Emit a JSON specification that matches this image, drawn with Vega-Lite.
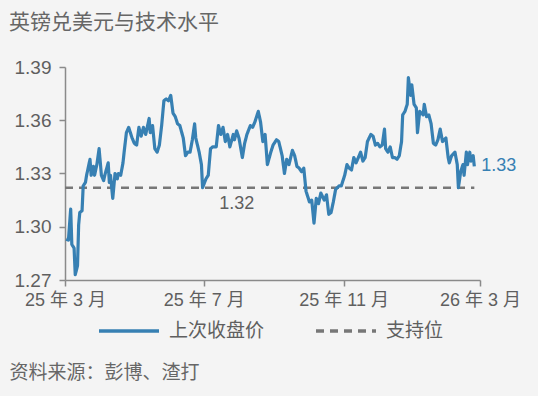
{
  "$schema": "https://vega.github.io/schema/vega-lite/v6.json",
  "width": 415,
  "height": 213,
  "autosize": {"type": "none"},
  "padding": {"left": 65, "top": 67, "right": 58, "bottom": 116},
  "background": "#f4f4f4",
  "config": {
    "view": {"stroke": null},
    "font": "Liberation Sans, Noto Sans CJK SC",
    "axis": {"grid": false, "domainColor": "#8a8a8a", "tickColor": "#8a8a8a", "domainWidth": 1.5, "tickWidth": 1.5, "labelColor": "#5f5f5f", "labelFont": "Liberation Sans, Noto Sans CJK SC"}
  },
  "title": {
    "text": "英镑兑美元与技术水平",
    "anchor": "start",
    "frame": "group",
    "dx": -56,
    "offset": 8,
    "baseline": "alphabetic",
    "font": "Noto Sans CJK SC",
    "fontSize": 21,
    "fontWeight": "normal",
    "color": "#666666"
  },
  "datasets": {
    "price": [
      {"d": "2025-03-02", "v": 1.293}, {"d": "2025-03-04", "v": 1.2925}, {"d": "2025-03-06", "v": 1.310}, {"d": "2025-03-07", "v": 1.290},
      {"d": "2025-03-09", "v": 1.288}, {"d": "2025-03-10", "v": 1.273}, {"d": "2025-03-12", "v": 1.278}, {"d": "2025-03-13", "v": 1.301},
      {"d": "2025-03-14", "v": 1.308}, {"d": "2025-03-16", "v": 1.309}, {"d": "2025-03-17", "v": 1.323}, {"d": "2025-03-19", "v": 1.325},
      {"d": "2025-03-20", "v": 1.329}, {"d": "2025-03-23", "v": 1.338}, {"d": "2025-03-24", "v": 1.329}, {"d": "2025-03-26", "v": 1.334},
      {"d": "2025-03-27", "v": 1.329}, {"d": "2025-03-29", "v": 1.335}, {"d": "2025-03-31", "v": 1.344}, {"d": "2025-04-02", "v": 1.329},
      {"d": "2025-04-04", "v": 1.326}, {"d": "2025-04-05", "v": 1.329}, {"d": "2025-04-08", "v": 1.336}, {"d": "2025-04-09", "v": 1.325},
      {"d": "2025-04-10", "v": 1.329}, {"d": "2025-04-12", "v": 1.316}, {"d": "2025-04-14", "v": 1.330}, {"d": "2025-04-16", "v": 1.327},
      {"d": "2025-04-17", "v": 1.330}, {"d": "2025-04-19", "v": 1.329}, {"d": "2025-04-21", "v": 1.336}, {"d": "2025-04-22", "v": 1.342},
      {"d": "2025-04-24", "v": 1.353}, {"d": "2025-04-26", "v": 1.356}, {"d": "2025-04-29", "v": 1.350}, {"d": "2025-05-01", "v": 1.347},
      {"d": "2025-05-03", "v": 1.346}, {"d": "2025-05-05", "v": 1.356}, {"d": "2025-05-07", "v": 1.351}, {"d": "2025-05-09", "v": 1.356},
      {"d": "2025-05-11", "v": 1.352}, {"d": "2025-05-14", "v": 1.361}, {"d": "2025-05-15", "v": 1.353}, {"d": "2025-05-17", "v": 1.357},
      {"d": "2025-05-19", "v": 1.344}, {"d": "2025-05-21", "v": 1.342}, {"d": "2025-05-23", "v": 1.346}, {"d": "2025-05-25", "v": 1.357},
      {"d": "2025-05-27", "v": 1.371}, {"d": "2025-05-29", "v": 1.372}, {"d": "2025-05-31", "v": 1.371}, {"d": "2025-06-02", "v": 1.374},
      {"d": "2025-06-04", "v": 1.364}, {"d": "2025-06-06", "v": 1.362}, {"d": "2025-06-08", "v": 1.358}, {"d": "2025-06-10", "v": 1.357},
      {"d": "2025-06-13", "v": 1.350}, {"d": "2025-06-15", "v": 1.340}, {"d": "2025-06-17", "v": 1.342}, {"d": "2025-06-19", "v": 1.342},
      {"d": "2025-06-21", "v": 1.349}, {"d": "2025-06-23", "v": 1.358}, {"d": "2025-06-24", "v": 1.350}, {"d": "2025-06-27", "v": 1.342},
      {"d": "2025-06-29", "v": 1.335}, {"d": "2025-06-30", "v": 1.322}, {"d": "2025-07-03", "v": 1.327}, {"d": "2025-07-05", "v": 1.329},
      {"d": "2025-07-07", "v": 1.344}, {"d": "2025-07-09", "v": 1.345}, {"d": "2025-07-12", "v": 1.345}, {"d": "2025-07-14", "v": 1.357},
      {"d": "2025-07-16", "v": 1.352}, {"d": "2025-07-18", "v": 1.356}, {"d": "2025-07-20", "v": 1.348}, {"d": "2025-07-22", "v": 1.352},
      {"d": "2025-07-24", "v": 1.345}, {"d": "2025-07-27", "v": 1.352}, {"d": "2025-07-28", "v": 1.349}, {"d": "2025-07-30", "v": 1.354},
      {"d": "2025-08-01", "v": 1.350}, {"d": "2025-08-04", "v": 1.339}, {"d": "2025-08-06", "v": 1.347}, {"d": "2025-08-08", "v": 1.352},
      {"d": "2025-08-11", "v": 1.357}, {"d": "2025-08-13", "v": 1.356}, {"d": "2025-08-15", "v": 1.359}, {"d": "2025-08-18", "v": 1.365},
      {"d": "2025-08-20", "v": 1.359}, {"d": "2025-08-22", "v": 1.348}, {"d": "2025-08-24", "v": 1.352}, {"d": "2025-08-26", "v": 1.335},
      {"d": "2025-08-29", "v": 1.342}, {"d": "2025-08-31", "v": 1.346}, {"d": "2025-09-01", "v": 1.347}, {"d": "2025-09-03", "v": 1.349},
      {"d": "2025-09-05", "v": 1.348}, {"d": "2025-09-08", "v": 1.340}, {"d": "2025-09-10", "v": 1.330}, {"d": "2025-09-12", "v": 1.338},
      {"d": "2025-09-14", "v": 1.335}, {"d": "2025-09-17", "v": 1.343}, {"d": "2025-09-19", "v": 1.340}, {"d": "2025-09-21", "v": 1.334},
      {"d": "2025-09-23", "v": 1.333}, {"d": "2025-09-25", "v": 1.331}, {"d": "2025-09-27", "v": 1.333}, {"d": "2025-09-29", "v": 1.320},
      {"d": "2025-10-02", "v": 1.314}, {"d": "2025-10-04", "v": 1.315}, {"d": "2025-10-06", "v": 1.302}, {"d": "2025-10-08", "v": 1.316},
      {"d": "2025-10-10", "v": 1.313}, {"d": "2025-10-12", "v": 1.319}, {"d": "2025-10-15", "v": 1.315}, {"d": "2025-10-17", "v": 1.318},
      {"d": "2025-10-19", "v": 1.307}, {"d": "2025-10-21", "v": 1.308}, {"d": "2025-10-23", "v": 1.314}, {"d": "2025-10-25", "v": 1.321},
      {"d": "2025-10-28", "v": 1.323}, {"d": "2025-10-30", "v": 1.323}, {"d": "2025-11-01", "v": 1.327}, {"d": "2025-11-02", "v": 1.329},
      {"d": "2025-11-04", "v": 1.335}, {"d": "2025-11-06", "v": 1.333}, {"d": "2025-11-08", "v": 1.332}, {"d": "2025-11-10", "v": 1.339},
      {"d": "2025-11-12", "v": 1.336}, {"d": "2025-11-14", "v": 1.339}, {"d": "2025-11-16", "v": 1.342}, {"d": "2025-11-18", "v": 1.337},
      {"d": "2025-11-20", "v": 1.339}, {"d": "2025-11-22", "v": 1.348}, {"d": "2025-11-25", "v": 1.352}, {"d": "2025-11-27", "v": 1.351},
      {"d": "2025-11-29", "v": 1.346}, {"d": "2025-12-01", "v": 1.347}, {"d": "2025-12-03", "v": 1.345}, {"d": "2025-12-05", "v": 1.346},
      {"d": "2025-12-07", "v": 1.355}, {"d": "2025-12-08", "v": 1.344}, {"d": "2025-12-10", "v": 1.342}, {"d": "2025-12-12", "v": 1.345},
      {"d": "2025-12-14", "v": 1.339}, {"d": "2025-12-16", "v": 1.339}, {"d": "2025-12-18", "v": 1.338}, {"d": "2025-12-20", "v": 1.340},
      {"d": "2025-12-22", "v": 1.348}, {"d": "2025-12-23", "v": 1.363}, {"d": "2025-12-25", "v": 1.365}, {"d": "2025-12-27", "v": 1.369},
      {"d": "2025-12-28", "v": 1.384}, {"d": "2025-12-30", "v": 1.374}, {"d": "2025-12-31", "v": 1.380}, {"d": "2026-01-02", "v": 1.369},
      {"d": "2026-01-04", "v": 1.367}, {"d": "2026-01-05", "v": 1.353}, {"d": "2026-01-07", "v": 1.365}, {"d": "2026-01-10", "v": 1.363},
      {"d": "2026-01-11", "v": 1.369}, {"d": "2026-01-13", "v": 1.362}, {"d": "2026-01-15", "v": 1.363}, {"d": "2026-01-17", "v": 1.358},
      {"d": "2026-01-19", "v": 1.347}, {"d": "2026-01-21", "v": 1.346}, {"d": "2026-01-23", "v": 1.349}, {"d": "2026-01-25", "v": 1.355},
      {"d": "2026-01-27", "v": 1.348}, {"d": "2026-01-30", "v": 1.350}, {"d": "2026-02-01", "v": 1.339}, {"d": "2026-02-02", "v": 1.336},
      {"d": "2026-02-04", "v": 1.340}, {"d": "2026-02-07", "v": 1.342}, {"d": "2026-02-09", "v": 1.335}, {"d": "2026-02-10", "v": 1.322},
      {"d": "2026-02-12", "v": 1.331}, {"d": "2026-02-14", "v": 1.335}, {"d": "2026-02-15", "v": 1.329}, {"d": "2026-02-17", "v": 1.342},
      {"d": "2026-02-18", "v": 1.335}, {"d": "2026-02-20", "v": 1.342}, {"d": "2026-02-21", "v": 1.337}, {"d": "2026-02-23", "v": 1.340},
      {"d": "2026-02-24", "v": 1.334}
    ],
    "support": [
      {"d": "2025-03-01", "v": 1.322},
      {"d": "2026-02-24", "v": 1.322}
    ],
    "notes": [
      {"d": "2025-07-30", "v": 1.322, "t": "1.32", "k": "support"},
      {"d": "2026-02-24", "v": 1.334, "t": "1.33", "k": "last"}
    ]
  },
  "encoding": {
    "x": {
      "field": "d", "type": "temporal",
      "scale": {"type": "utc", "domain": [{"year": 2025, "month": 3, "date": 1, "utc": true}, {"year": 2026, "month": 3, "date": 1, "utc": true}]},
      "axis": {
        "values": [{"year": 2025, "month": 3, "date": 1, "utc": true}, {"year": 2025, "month": 7, "date": 1, "utc": true}, {"year": 2025, "month": 11, "date": 1, "utc": true}, {"year": 2026, "month": 3, "date": 1, "utc": true}],
        "labelExpr": "utcFormat(datum.value, '%y') + ' 年 ' + (utcmonth(datum.value) + 1) + ' 月'",
        "labelFontSize": 18,
        "labelPadding": 5,
        "tickSize": 6,
        "labelFlush": false,
        "labelOverlap": false,
        "title": "资料来源：彭博、渣打",
        "titleX": -56,
        "titleY": 92,
        "titleAlign": "left",
        "titleAnchor": null,
        "titleBaseline": "middle",
        "titleFont": "Noto Sans CJK SC",
        "titleFontSize": 19,
        "titleFontWeight": "normal",
        "titleColor": "#666666"
      }
    },
    "y": {
      "field": "v", "type": "quantitative",
      "scale": {"domain": [1.27, 1.39], "zero": false, "nice": false},
      "axis": {"values": [1.27, 1.30, 1.33, 1.36, 1.39], "format": ".2f", "labelFontSize": 19, "tickSize": 6, "labelPadding": 8, "title": null}
    }
  },
  "layer": [
    {
      "data": {"name": "support"},
      "mark": {"type": "line", "strokeWidth": 2.5},
      "encoding": {
        "color": {"datum": "支持位", "type": "nominal", "scale": {"domain": ["上次收盘价", "支持位"], "range": ["#3780b3", "#777777"]}, "legend": {
          "orient": "none", "legendX": 32, "legendY": 232, "direction": "horizontal", "title": null,
          "symbolType": "stroke", "symbolSize": 3600, "symbolStrokeWidth": 3.5, "labelFontSize": 19, "labelColor": "#5f5f5f",
          "labelFont": "Noto Sans CJK SC", "labelOffset": 8, "columnPadding": 44, "labelLimit": 200
        }},
        "strokeDash": {"datum": "支持位", "type": "nominal", "scale": {"domain": ["上次收盘价", "支持位"], "range": [[1, 0], [8, 6]]}, "legend": {
          "orient": "none", "legendX": 32, "legendY": 232, "direction": "horizontal", "title": null,
          "symbolType": "stroke", "symbolSize": 3600, "symbolStrokeWidth": 3.5, "labelFontSize": 19, "labelColor": "#5f5f5f",
          "labelFont": "Noto Sans CJK SC", "labelOffset": 8, "columnPadding": 44, "labelLimit": 200
        }}
      }
    },
    {
      "data": {"name": "price"},
      "mark": {"type": "line", "strokeWidth": 3.2, "strokeJoin": "round"},
      "encoding": {
        "color": {"datum": "上次收盘价", "type": "nominal"},
        "strokeDash": {"datum": "上次收盘价", "type": "nominal"}
      }
    },
    {
      "data": {"name": "notes"},
      "transform": [{"filter": "datum.k == 'support'"}],
      "mark": {"type": "text", "fontSize": 18, "dy": 16, "align": "center", "baseline": "middle", "color": "#5f5f5f"},
      "encoding": {"text": {"field": "t"}}
    },
    {
      "data": {"name": "notes"},
      "transform": [{"filter": "datum.k == 'last'"}],
      "mark": {"type": "text", "fontSize": 18, "dx": 7, "align": "left", "baseline": "middle", "color": "#3780b3"},
      "encoding": {"text": {"field": "t"}}
    }
  ]
}
